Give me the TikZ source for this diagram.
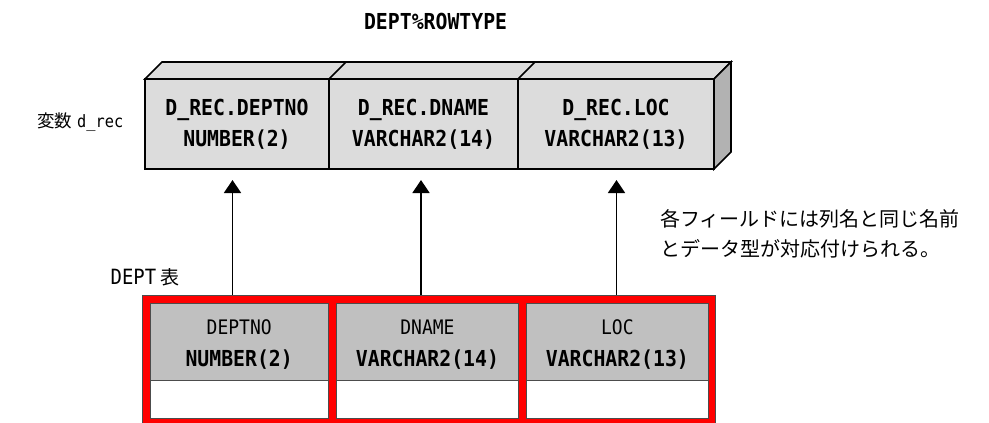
\documentclass[tikz,border=0pt]{standalone}
\usepackage{fontspec}
\setmonofont[FakeStretch=0.9]{DejaVu Sans Mono}
\newfontfamily\jpfont{Noto Sans CJK JP}
\usetikzlibrary{arrows.meta}
\definecolor{recgray}{HTML}{DCDCDC}
\definecolor{sidegray}{HTML}{B2B2B2}
\definecolor{colgray}{HTML}{C0C0C0}
\tikzset{
  recbox/.style={draw, line width=1.6pt, fill=recgray, minimum height=90pt, outer sep=0pt, align=center,
    font=\ttfamily\bfseries\fontsize{22}{31}\selectfont},
  colbox/.style={draw=black!70, line width=0.8pt, fill=colgray, minimum height=77pt, outer sep=0pt, align=center,
    font=\ttfamily\fontsize{20}{32}\selectfont},
  rowbox/.style={draw=black!70, line width=0.8pt, fill=white, minimum height=38.3pt, outer sep=0pt},
  up/.style={-{Triangle[width=17pt,length=13pt]}, line width=1.5pt}
}
\newcommand{\coltype}[1]{{\bfseries\fontsize{22}{32}\selectfont #1}}

\begin{document}
\begin{tikzpicture}[x=1pt,y=-1pt]
\useasboundingbox (0,0) rectangle (989,423);

%Record variable
\node [font=\ttfamily\bfseries\fontsize{22}{24}\selectfont, anchor=base] (rowtype) at (435.6,30) {DEPT\%ROWTYPE};
\node [font=\ttfamily\fontsize{17}{18}\selectfont, anchor=base west, inner sep=0pt] (var) at (37,127) {{\jpfont\fontsize{17.5}{18}\selectfont 変数}\hspace{5pt}d\_rec};

\node [recbox, minimum width=184pt] (rec1) at (237,124) {D\_REC.DEPTNO\\NUMBER(2)};
\node [recbox, minimum width=189pt] (rec2) at (423.5,124) {D\_REC.DNAME\\VARCHAR2(14)};
\node [recbox, minimum width=196pt] (rec3) at (616,124) {D\_REC.LOC\\VARCHAR2(13)};

\draw [line width=1.6pt, fill=recgray] (rec1.north west)--++(17,-17)--([shift={(17,-17)}]rec3.north east)--(rec3.north east)--cycle;
\draw [line width=1.6pt] (rec2.north west)--++(17,-17); \draw [line width=1.6pt] (rec3.north west)--++(17,-17);
\draw [line width=1.6pt, fill=sidegray] (rec3.north east)--++(17,-17)--++(0,90)--(rec3.south east)--cycle;

%DEPT table
\node [font=\ttfamily\fontsize{21}{24}\selectfont, anchor=base west, inner sep=0pt] (dept) at (110.5,284.5) {DEPT\hspace{4pt}{\jpfont\fontsize{19}{24}\selectfont 表}};

\coordinate (a1) at (232.5,180); \coordinate (a2) at (421,180); \coordinate (a3) at (616.5,180);
\draw [up] (a1 |- 0,300)--(a1); \draw [up] (a2 |- 0,300)--(a2); \draw [up] (a3 |- 0,300)--(a3);

\draw [draw=black!70, line width=0.8pt, fill=red] (142.3,295.5) rectangle (715.7,432);

\node [colbox, minimum width=178.4pt] (col1) at (239.2,341.5) {\rule{0pt}{20pt}DEPTNO\\\coltype{NUMBER(2)}};
\node [colbox, minimum width=182.3pt] (col2) at (427.45,341.5) {\rule{0pt}{20pt}DNAME\\\coltype{VARCHAR2(14)}};
\node [colbox, minimum width=181.8pt] (col3) at (617.4,341.5) {\rule{0pt}{20pt}LOC\\\coltype{VARCHAR2(13)}};
\node [rowbox, minimum width=178.4pt, anchor=north] (row1) at (col1.south) {};
\node [rowbox, minimum width=182.3pt, anchor=north] (row2) at (col2.south) {};
\node [rowbox, minimum width=181.8pt, anchor=north] (row3) at (col3.south) {};

%Note
\node [font=\jpfont\fontsize{20}{30}\selectfont, anchor=north west, align=left, inner sep=0pt] (note) at (660,209)
  {各フィールドには列名と同じ名前\\とデータ型が対応付けられる。};

\end{tikzpicture}
\end{document}
